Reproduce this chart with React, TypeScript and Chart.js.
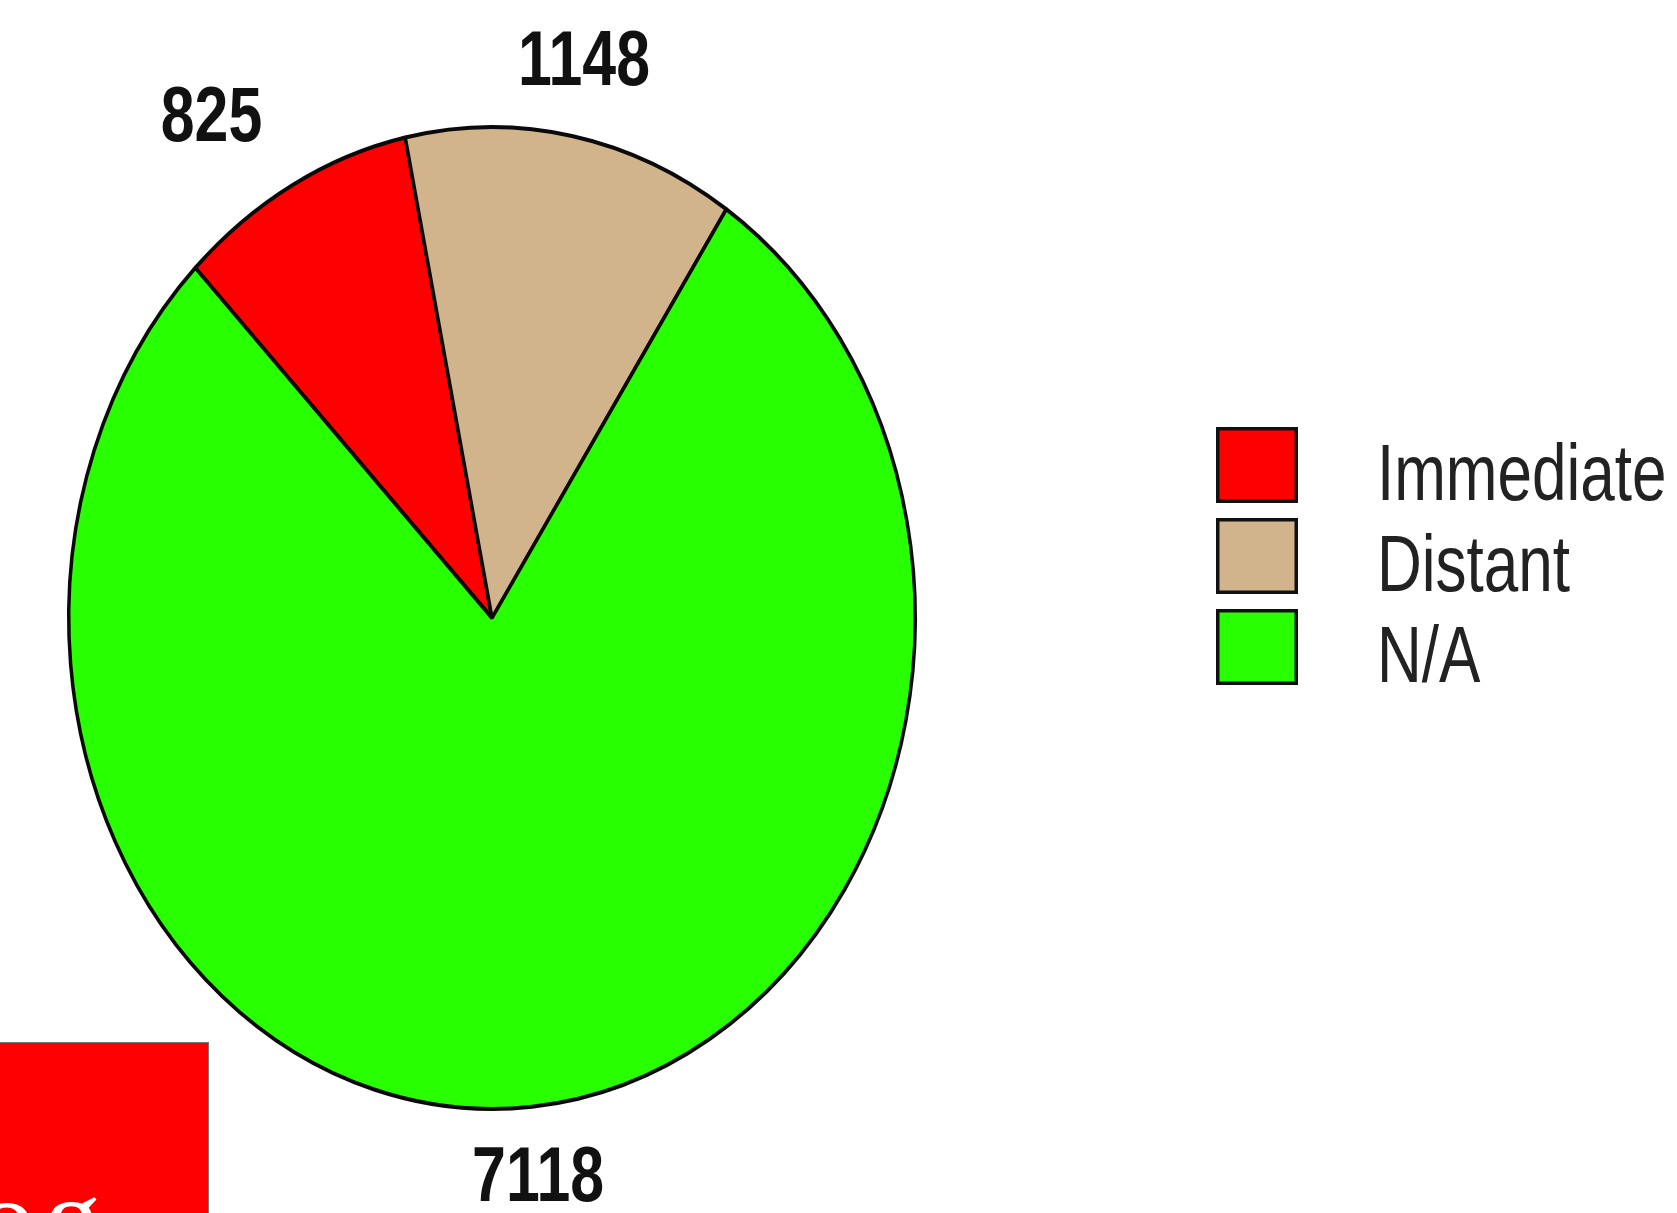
import React, { useEffect, useRef } from "react";
import { Chart, registerables } from "chart.js";

Chart.register(...registerables);

const categories = ["Immediate", "Distant", "N/A"];
const values = [825, 1148, 7118];
const sliceColors = ["#FF0000", "#D2B48C", "#28FF00"];

const Y_STRETCH = 493 / 425;

const ellipsePlugin = {
  id: "ellipse",
  beforeDatasetsDraw(chart: any) {
    const arc = chart.getDatasetMeta(0).data[0];
    const ctx = chart.ctx;
    ctx.save();
    ctx.translate(arc.x, arc.y);
    ctx.scale(1, Y_STRETCH);
    ctx.translate(-arc.x, -arc.y);
  },
  afterDatasetsDraw(chart: any) {
    chart.ctx.restore();
  },
};

const valueLabelPlugin = {
  id: "valueLabels",
  afterDatasetsDraw(chart: any) {
    const ctx = chart.ctx;
    const meta = chart.getDatasetMeta(0);
    const ds = chart.data.datasets[0];
    const sx = 0.79;
    ctx.save();
    ctx.font = "bold 77px 'Liberation Sans', Arial, sans-serif";
    ctx.fillStyle = "#111";
    ctx.textBaseline = "middle";
    ctx.textAlign = "center";
    meta.data.forEach((arc: any, i: number) => {
      const mid = (arc.startAngle + arc.endAngle) / 2;
      const r = arc.outerRadius * 1.15;
      const c = Math.cos(mid);
      const s = Math.sin(mid);
      const text = String(ds.data[i]);
      const w = ctx.measureText(text).width * sx;
      let x = arc.x + c * r;
      const y = arc.y + s * r * Y_STRETCH;
      if (Math.abs(c) > 0.3) x += Math.sign(c) * (w / 2);
      ctx.save();
      ctx.translate(x, y);
      ctx.scale(sx, 1);
      ctx.fillText(text, 0, 0);
      ctx.restore();
    });
    ctx.restore();
  },
};

const legendPlugin = {
  id: "sideLegend",
  afterDraw(chart: any) {
    const ctx = chart.ctx;
    const labels = chart.data.labels as string[];
    const bg = chart.data.datasets[0].backgroundColor as string[];
    const boxX = 1216;
    const boxW = 82;
    const boxH = 76;
    const top = 427;
    const pitch = 91;
    const textX = 1377;
    const sx = 0.775;
    ctx.save();
    ctx.font = "80px 'Liberation Sans', Arial, sans-serif";
    ctx.textBaseline = "middle";
    ctx.textAlign = "left";
    labels.forEach((lab, i) => {
      const y = top + i * pitch;
      ctx.fillStyle = bg[i];
      ctx.fillRect(boxX, y, boxW, boxH);
      ctx.strokeStyle = "#111";
      ctx.lineWidth = 3.5;
      ctx.strokeRect(boxX + 1.75, y + 1.75, boxW - 3.5, boxH - 3.5);
      ctx.fillStyle = "#222";
      ctx.save();
      ctx.translate(textX, y + boxH / 2 + 13);
      ctx.scale(sx, 1);
      ctx.fillText(lab, 0, 0);
      ctx.restore();
    });
    ctx.restore();
  },
};

export default function App() {
  const canvasRef = useRef<HTMLCanvasElement | null>(null);

  useEffect(() => {
    document.body.style.margin = "0";
    const canvas = canvasRef.current;
    if (!canvas) return;
    const chart = new Chart(canvas, {
      type: "pie",
      data: {
        labels: categories,
        datasets: [
          {
            data: values,
            backgroundColor: sliceColors,
            borderColor: "#0a0a0a",
            borderWidth: 3.5,
          },
        ],
      },
      options: {
        responsive: false,
        animation: false,
        events: [],
        rotation: -44.5,
        layout: { padding: { left: 67, right: 760, top: 193, bottom: 170 } },
        plugins: {
          legend: { display: false },
          tooltip: { enabled: false },
          title: { display: false },
        },
      },
      plugins: [ellipsePlugin, valueLabelPlugin, legendPlugin],
    });
    return () => chart.destroy();
  }, []);

  return (
    <div style={{ position: "relative", width: 1677, height: 1213, overflow: "hidden", background: "#fff" }}>
      <canvas ref={canvasRef} width={1677} height={1213} style={{ display: "block" }} />
      <div
        style={{
          position: "absolute",
          left: 0,
          top: 1042,
          width: 208,
          height: 171,
          background: "#FF0000",
          borderTop: "1px solid #777",
          borderRight: "1px solid #777",
          overflow: "hidden",
        }}
      >
        <span
          style={{
            position: "absolute",
            left: -22,
            top: 118,
            fontFamily: "'Liberation Serif', 'Times New Roman', serif",
            fontSize: 115,
            lineHeight: 1,
            color: "#fff",
            whiteSpace: "nowrap",
            letterSpacing: 8,
          }}
        >
          og
        </span>
      </div>
    </div>
  );
}
